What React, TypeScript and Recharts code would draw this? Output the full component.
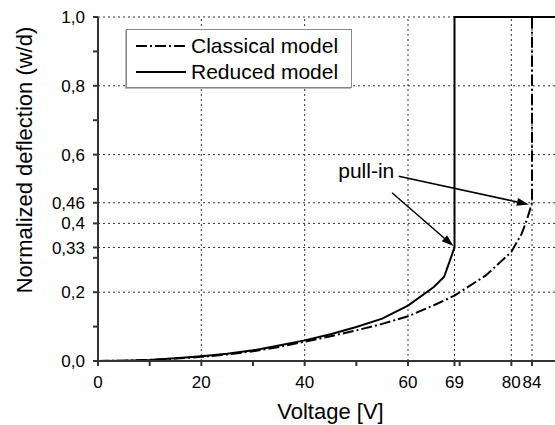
import { LineChart, Line, XAxis, YAxis, ReferenceLine, ReferenceDot, Legend } from "recharts";

// Reduced model (solid): curve up to pull-in at 69 V, then jumps to contact
const reducedVoltage = [0, 5, 10, 15, 20, 25, 30, 35, 40, 45, 50, 55, 60, 65, 67, 69, 69, 90];
const reducedDeflection = [0, 0.001, 0.003, 0.008, 0.014, 0.021, 0.031, 0.045, 0.06, 0.078, 0.099, 0.123, 0.161, 0.215, 0.245, 0.33, 1.0, 1.0];

// Classical model (dash-dot): pull-in at 84 V
const classicalVoltage = [0, 5, 10, 15, 20, 25, 30, 35, 40, 45, 50, 55, 60, 65, 69, 75, 80, 82, 83, 84, 84, 90];
const classicalDeflection = [0, 0.001, 0.003, 0.007, 0.012, 0.019, 0.028, 0.041, 0.056, 0.072, 0.089, 0.108, 0.13, 0.162, 0.19, 0.248, 0.317, 0.37, 0.41, 0.46, 1.0, 1.0];

const xMajorTicks = [0, 20, 40, 60, 69, 80, 84];
const xMinorTicks = [10, 30, 50, 70];
const yMajorTicks = [0, 0.2, 0.33, 0.4, 0.46, 0.6, 0.8, 1.0];
const yMinorTicks = [0.1, 0.3, 0.5, 0.7, 0.9];

const xGrid = [20, 40, 60, 69, 80, 84];
const yGrid = [0.2, 0.33, 0.4, 0.46, 0.6, 0.8, 1.0];

// annotation: "pull-in" text and two arrows [fromV, fromD, toV, toD]
const pullInLabel = { v: 46.5, d: 0.531, text: "pull-in" };
const pullInArrows = [
  [58.2, 0.537, 83.4, 0.455],
  [56.9, 0.489, 68.8, 0.334],
];

const toPoints = (xs: number[], ys: number[]) => xs.map((v, i) => ({ v, d: ys[i] }));
const reducedData = toPoints(reducedVoltage, reducedDeflection);
const classicalData = toPoints(classicalVoltage, classicalDeflection);

const FONT = "'Liberation Sans', Arial, sans-serif";
const AXIS = "#333";
const DASHDOT = "11 3 2 3";

const seriesStyle: Record<string, { dash?: string }> = {
  "Classical model": { dash: DASHDOT },
  "Reduced model": {},
};

const sorted = (a: number[]) => [...a].sort((p, q) => p - q);
const has = (arr: number[], v: number) => arr.some((t) => Math.abs(t - v) < 1e-9);

const xTickLabel = (v: number) => (has(xMajorTicks, v) ? String(v) : "");
const yTickLabel = (v: number) => {
  if (!has(yMajorTicks, v)) return "";
  const s = Math.abs(v * 10 - Math.round(v * 10)) < 1e-9 ? v.toFixed(1) : v.toFixed(2);
  return s.replace(".", ",");
};

function Arrow(props: any) {
  const { x1, y1, x2, y2 } = props;
  const a = Math.atan2(y2 - y1, x2 - x1);
  const len = 12;
  const w = 4;
  const bx = x2 - len * Math.cos(a);
  const by = y2 - len * Math.sin(a);
  const px = -Math.sin(a) * w;
  const py = Math.cos(a) * w;
  return (
    <g>
      <line x1={x1} y1={y1} x2={bx} y2={by} stroke="#000" strokeWidth={1.5} />
      <polygon points={`${x2},${y2} ${bx + px},${by + py} ${bx - px},${by - py}`} fill="#000" />
    </g>
  );
}

function LegendBox({ payload }: any) {
  return (
    <div
      style={{
        width: 226,
        height: 59,
        boxSizing: "border-box",
        background: "#fff",
        border: "1px solid #888",
        boxShadow: "-1px 1px 0 #bbb",
        fontFamily: FONT,
        fontSize: 21,
        color: "#000",
        paddingTop: 3,
      }}
    >
      {(payload || []).map((p: any) => (
        <div key={p.value} style={{ display: "flex", alignItems: "center", height: 26 }}>
          <svg width={64} height={10} style={{ flex: "none" }}>
            <line
              x1={9}
              y1={5}
              x2={59}
              y2={5}
              stroke="#000"
              strokeWidth={2}
              strokeDasharray={seriesStyle[p.value]?.dash}
            />
          </svg>
          <span>{p.value}</span>
        </div>
      ))}
    </div>
  );
}

function XTitle({ viewBox }: any) {
  const { x, y, width, height } = viewBox;
  return (
    <text x={x + width / 2} y={y + height - 6} textAnchor="middle" fontSize={22} fill="#000" fontFamily={FONT}>
      Voltage [V]
    </text>
  );
}

function YTitle({ viewBox }: any) {
  const { x, y, height } = viewBox;
  const cx = x + 32;
  const cy = y + height / 2 - 29;
  return (
    <text
      x={cx}
      y={cy}
      transform={`rotate(-90 ${cx} ${cy})`}
      textAnchor="middle"
      fontSize={22}
      fill="#000"
      fontFamily={FONT}
    >
      Normalized deflection (w/d)
    </text>
  );
}

export default function App() {
  const tickStyle = { fill: "#000", fontSize: 17, fontFamily: FONT };
  return (
    <div
      style={{
        position: "absolute",
        left: 0,
        top: 0,
        width: 555,
        height: 425,
        overflow: "hidden",
        background: "#fff",
        fontFamily: FONT,
      }}
    >
      <LineChart width={563} height={425} margin={{ top: 17, right: 0, bottom: 0, left: 0 }}>
        {yGrid.map((d) => (
          <ReferenceLine key={`gy${d}`} y={d} stroke="#333" strokeWidth={1} strokeDasharray="2 3" />
        ))}
        {xGrid.map((v) => (
          <ReferenceLine key={`gx${v}`} x={v} stroke="#333" strokeWidth={1} strokeDasharray="2 3" />
        ))}
        <XAxis
          type="number"
          dataKey="v"
          domain={[0, 90]}
          ticks={sorted([...xMajorTicks, ...xMinorTicks])}
          interval={0}
          tickFormatter={xTickLabel}
          tick={tickStyle}
          tickSize={5}
          tickMargin={10}
          stroke={AXIS}
          strokeWidth={2}
          height={64}
          label={<XTitle />}
        />
        <YAxis
          type="number"
          domain={[0, 1]}
          ticks={sorted([...yMajorTicks, ...yMinorTicks])}
          interval={0}
          tickFormatter={yTickLabel}
          tick={tickStyle}
          tickSize={5}
          tickMargin={8}
          stroke={AXIS}
          strokeWidth={2}
          width={98}
          label={<YTitle />}
        />
        {/* vertical + center + middle: legend reserves no space in the plot offset */}
        <Legend
          content={<LegendBox />}
          layout="vertical"
          verticalAlign="middle"
          align="center"
          wrapperStyle={{ left: 126, top: 29, width: 226 }}
        />
        <Line
          name="Classical model"
          data={classicalData}
          dataKey="d"
          type="linear"
          stroke="#000"
          strokeWidth={2}
          strokeDasharray={DASHDOT}
          dot={false}
          isAnimationActive={false}
        />
        <Line
          name="Reduced model"
          data={reducedData}
          dataKey="d"
          type="linear"
          stroke="#000"
          strokeWidth={2}
          dot={false}
          isAnimationActive={false}
        />
        {pullInArrows.map(([v1, d1, v2, d2], i) => (
          <ReferenceLine
            key={`arrow${i}`}
            segment={[
              { x: v1, y: d1 },
              { x: v2, y: d2 },
            ]}
            shape={<Arrow />}
          />
        ))}
        <ReferenceDot
          x={pullInLabel.v}
          y={pullInLabel.d}
          r={0}
          shape={(p: any) => (
            <text x={p.cx} y={p.cy} fontSize={21} fill="#000" fontFamily={FONT}>
              {pullInLabel.text}
            </text>
          )}
        />
      </LineChart>
    </div>
  );
}
